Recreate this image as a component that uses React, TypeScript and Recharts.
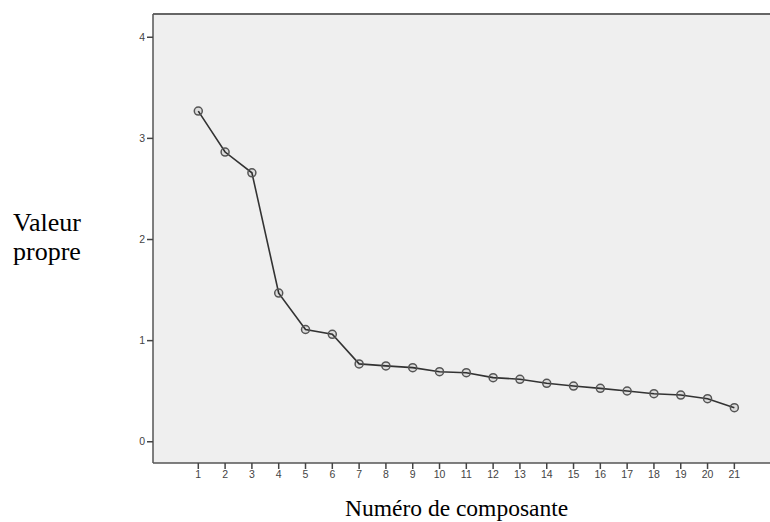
import { LineChart, Line, XAxis, YAxis, ReferenceArea, ReferenceLine } from 'recharts';

const components = [1, 2, 3, 4, 5, 6, 7, 8, 9, 10, 11, 12, 13, 14, 15, 16, 17, 18, 19, 20, 21];
const eigenvalues = [
  3.27, 2.865, 2.66, 1.47, 1.11, 1.063, 0.77, 0.75, 0.733, 0.693, 0.683,
  0.634, 0.618, 0.578, 0.551, 0.528, 0.502, 0.475, 0.462, 0.426, 0.337,
];
const yTicks = [0, 1, 2, 3, 4];
const xDomain: [number, number] = [-0.69, 22.33];
const yDomain: [number, number] = [-0.21, 4.23];

const chartData = components.map((c, i) => ({ component: c, value: eigenvalues[i] }));

const tickStyle = { fontFamily: 'Liberation Sans, Arial, sans-serif', fontSize: 10.5, fill: '#444' };
const tickLineStyle = { stroke: '#444', strokeWidth: 1.5 };

export default function App() {
  return (
    <div style={{ position: 'absolute', left: 0, top: 0, width: 770, height: 522, background: '#fff' }}>
      <LineChart
        width={770}
        height={522}
        data={chartData}
        margin={{ top: 14, right: 0, bottom: 34, left: 113 }}
      >
        <ReferenceArea
          x1={xDomain[0]}
          x2={xDomain[1]}
          y1={yDomain[0]}
          y2={yDomain[1]}
          fill="#efefef"
          fillOpacity={1}
          stroke="none"
        />
        <ReferenceLine y={yDomain[1]} stroke="#666" strokeWidth={2} />
        <XAxis
          type="number"
          dataKey="component"
          domain={xDomain}
          ticks={components}
          interval={0}
          height={25}
          stroke="#555"
          strokeWidth={1.5}
          tickSize={6}
          tickLine={tickLineStyle}
          tick={tickStyle}
          allowDataOverflow
        />
        <YAxis
          type="number"
          domain={yDomain}
          ticks={yTicks}
          width={40}
          stroke="#555"
          strokeWidth={1.5}
          tickSize={6}
          tickLine={tickLineStyle}
          tick={tickStyle}
          allowDataOverflow
        />
        <Line
          type="linear"
          dataKey="value"
          stroke="#333"
          strokeWidth={1.6}
          dot={{ r: 4, stroke: '#555', strokeWidth: 1.5, fill: 'rgba(0,0,0,0.08)' }}
          isAnimationActive={false}
        />
      </LineChart>
      <div
        style={{
          position: 'absolute',
          left: 13,
          top: 208,
          fontFamily: 'Liberation Serif, Times New Roman, serif',
          fontSize: 26,
          lineHeight: '29px',
          color: '#000',
        }}
      >
        Valeur
        <br />
        propre
      </div>
      <div
        style={{
          position: 'absolute',
          left: 345,
          top: 495,
          fontFamily: 'Liberation Serif, Times New Roman, serif',
          fontSize: 23.5,
          lineHeight: '26px',
          color: '#000',
          whiteSpace: 'nowrap',
        }}
      >
        Numéro de composante
      </div>
    </div>
  );
}
